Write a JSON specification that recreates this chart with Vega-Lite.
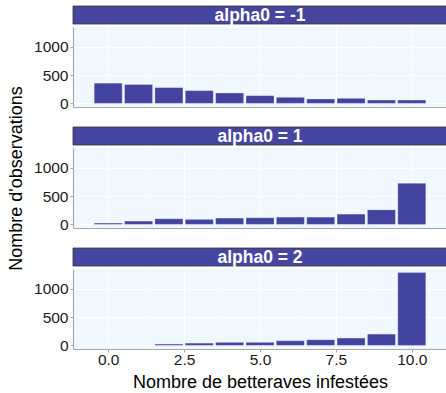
{
  "$schema": "https://vega.github.io/schema/vega-lite/v6.json",
  "padding": {"left": 7, "top": 5, "right": 0, "bottom": 0},
  "title": {"text": "Nombre d'observations", "orient": "left", "anchor": "middle", "fontSize": 18, "fontWeight": "normal", "color": "#000000", "offset": 8, "dx": 20},
  "datasets": {
    "counts": [
      {"alpha0": -1, "n": 0, "count": 357},
      {"alpha0": -1, "n": 1, "count": 333},
      {"alpha0": -1, "n": 2, "count": 279},
      {"alpha0": -1, "n": 3, "count": 225},
      {"alpha0": -1, "n": 4, "count": 184},
      {"alpha0": -1, "n": 5, "count": 136},
      {"alpha0": -1, "n": 6, "count": 107},
      {"alpha0": -1, "n": 7, "count": 77},
      {"alpha0": -1, "n": 8, "count": 89},
      {"alpha0": -1, "n": 9, "count": 59},
      {"alpha0": -1, "n": 10, "count": 59},
      {"alpha0": 1, "n": 0, "count": 23},
      {"alpha0": 1, "n": 1, "count": 58},
      {"alpha0": 1, "n": 2, "count": 99},
      {"alpha0": 1, "n": 3, "count": 88},
      {"alpha0": 1, "n": 4, "count": 111},
      {"alpha0": 1, "n": 5, "count": 117},
      {"alpha0": 1, "n": 6, "count": 128},
      {"alpha0": 1, "n": 7, "count": 128},
      {"alpha0": 1, "n": 8, "count": 181},
      {"alpha0": 1, "n": 9, "count": 257},
      {"alpha0": 1, "n": 10, "count": 725},
      {"alpha0": 2, "n": 2, "count": 23},
      {"alpha0": 2, "n": 3, "count": 40},
      {"alpha0": 2, "n": 4, "count": 53},
      {"alpha0": 2, "n": 5, "count": 53},
      {"alpha0": 2, "n": 6, "count": 82},
      {"alpha0": 2, "n": 7, "count": 99},
      {"alpha0": 2, "n": 8, "count": 129},
      {"alpha0": 2, "n": 9, "count": 199},
      {"alpha0": 2, "n": 10, "count": 1286}
    ],
    "strips": [
      {"alpha0": -1, "label": "alpha0 = -1"},
      {"alpha0": 1, "label": "alpha0 = 1"},
      {"alpha0": 2, "label": "alpha0 = 2"}
    ]
  },
  "config": {
    "font": "Liberation Sans",
    "view": {"fill": "#F0F8FF", "stroke": null},
    "axis": {
      "domainColor": "#A8A8A8",
      "domainWidth": 1.2,
      "tickColor": "#A8A8A8",
      "tickSize": 3,
      "labelFontSize": 15.5,
      "labelColor": "#1A1A1A",
      "labelPadding": 2,
      "labelOverlap": false,
      "labelFlush": false,
      "titleFontSize": 18,
      "titleFontWeight": "normal",
      "titleColor": "#000000",
      "gridColor": "#FFFFFF"
    }
  },
  "spacing": 14,
  "vconcat": [
    {
      "spacing": 0,
      "vconcat": [
        {
          "width": 374, "height": 18,
          "data": {"name": "strips"},
          "transform": [{"filter": "datum.alpha0 == -1"}],
          "layer": [
            {"mark": {"type": "rect", "fill": "#4646A0", "stroke": "#333333", "strokeWidth": 0.8}, "encoding": {}},
            {"mark": {"type": "text", "color": "#FFFFFF", "fontWeight": "bold", "fontSize": 17.5, "baseline": "middle", "dy": 1}, "encoding": {"text": {"field": "label"}}}
          ]
        },
        {
          "width": 374, "height": 80,
          "data": {"name": "counts"},
          "transform": [{"filter": "datum.alpha0 == -1"}],
          "mark": {"type": "bar", "width": 28, "fill": "#4343A0", "stroke": "#FFFFFF", "strokeOpacity": 0.5, "strokeWidth": 0.5},
          "encoding": {
            "x": {
              "field": "n", "type": "quantitative",
              "scale": {"domain": [-0.995, 10.995], "nice": false, "zero": false},
              "axis": {"title": null, "labels": false, "ticks": false, "values": [0, 1.25, 2.5, 3.75, 5, 6.25, 7.5, 8.75, 10],
                "gridWidth": {"condition": {"test": "datum.value % 2.5 === 0", "value": 1.1}, "value": 0.5}}
            },
            "y": {
              "field": "count", "type": "quantitative",
              "scale": {"domain": [-64, 1350], "nice": false},
              "axis": {"title": null, "values": [0, 250, 500, 750, 1000, 1250],
                "labelExpr": "datum.value % 500 === 0 ? format(datum.value, 'd') : ''",
                "tickOpacity": {"condition": {"test": "datum.value % 500 === 0", "value": 1}, "value": 0},
                "gridWidth": {"condition": {"test": "datum.value % 500 === 0", "value": 1.1}, "value": 0.5}}
            }
          }
        }
      ]
    },
    {
      "spacing": 0,
      "vconcat": [
        {
          "width": 374, "height": 18,
          "data": {"name": "strips"},
          "transform": [{"filter": "datum.alpha0 == 1"}],
          "layer": [
            {"mark": {"type": "rect", "fill": "#4646A0", "stroke": "#333333", "strokeWidth": 0.8}, "encoding": {}},
            {"mark": {"type": "text", "color": "#FFFFFF", "fontWeight": "bold", "fontSize": 17.5, "baseline": "middle", "dy": 1}, "encoding": {"text": {"field": "label"}}}
          ]
        },
        {
          "width": 374, "height": 80,
          "data": {"name": "counts"},
          "transform": [{"filter": "datum.alpha0 == 1"}],
          "mark": {"type": "bar", "width": 28, "fill": "#4343A0", "stroke": "#FFFFFF", "strokeOpacity": 0.5, "strokeWidth": 0.5},
          "encoding": {
            "x": {
              "field": "n", "type": "quantitative",
              "scale": {"domain": [-0.995, 10.995], "nice": false, "zero": false},
              "axis": {"title": null, "labels": false, "ticks": false, "values": [0, 1.25, 2.5, 3.75, 5, 6.25, 7.5, 8.75, 10],
                "gridWidth": {"condition": {"test": "datum.value % 2.5 === 0", "value": 1.1}, "value": 0.5}}
            },
            "y": {
              "field": "count", "type": "quantitative",
              "scale": {"domain": [-64, 1350], "nice": false},
              "axis": {"title": null, "values": [0, 250, 500, 750, 1000, 1250],
                "labelExpr": "datum.value % 500 === 0 ? format(datum.value, 'd') : ''",
                "tickOpacity": {"condition": {"test": "datum.value % 500 === 0", "value": 1}, "value": 0},
                "gridWidth": {"condition": {"test": "datum.value % 500 === 0", "value": 1.1}, "value": 0.5}}
            }
          }
        }
      ]
    },
    {
      "spacing": 0,
      "vconcat": [
        {
          "width": 374, "height": 18,
          "data": {"name": "strips"},
          "transform": [{"filter": "datum.alpha0 == 2"}],
          "layer": [
            {"mark": {"type": "rect", "fill": "#4646A0", "stroke": "#333333", "strokeWidth": 0.8}, "encoding": {}},
            {"mark": {"type": "text", "color": "#FFFFFF", "fontWeight": "bold", "fontSize": 17.5, "baseline": "middle", "dy": 1}, "encoding": {"text": {"field": "label"}}}
          ]
        },
        {
          "width": 374, "height": 80,
          "data": {"name": "counts"},
          "transform": [{"filter": "datum.alpha0 == 2"}],
          "mark": {"type": "bar", "width": 28, "fill": "#4343A0", "stroke": "#FFFFFF", "strokeOpacity": 0.5, "strokeWidth": 0.5},
          "encoding": {
            "x": {
              "field": "n", "type": "quantitative",
              "scale": {"domain": [-0.995, 10.995], "nice": false, "zero": false},
              "axis": {"title": "Nombre de betteraves infestées", "titlePadding": 6, "labelPadding": 0,
                "values": [0, 1.25, 2.5, 3.75, 5, 6.25, 7.5, 8.75, 10],
                "labelExpr": "datum.value % 2.5 === 0 ? format(datum.value, '.1f') : ''",
                "tickOpacity": {"condition": {"test": "datum.value % 2.5 === 0", "value": 1}, "value": 0},
                "gridWidth": {"condition": {"test": "datum.value % 2.5 === 0", "value": 1.1}, "value": 0.5}}
            },
            "y": {
              "field": "count", "type": "quantitative",
              "scale": {"domain": [-64, 1350], "nice": false},
              "axis": {"title": null, "values": [0, 250, 500, 750, 1000, 1250],
                "labelExpr": "datum.value % 500 === 0 ? format(datum.value, 'd') : ''",
                "tickOpacity": {"condition": {"test": "datum.value % 500 === 0", "value": 1}, "value": 0},
                "gridWidth": {"condition": {"test": "datum.value % 500 === 0", "value": 1.1}, "value": 0.5}}
            }
          }
        }
      ]
    }
  ]
}
